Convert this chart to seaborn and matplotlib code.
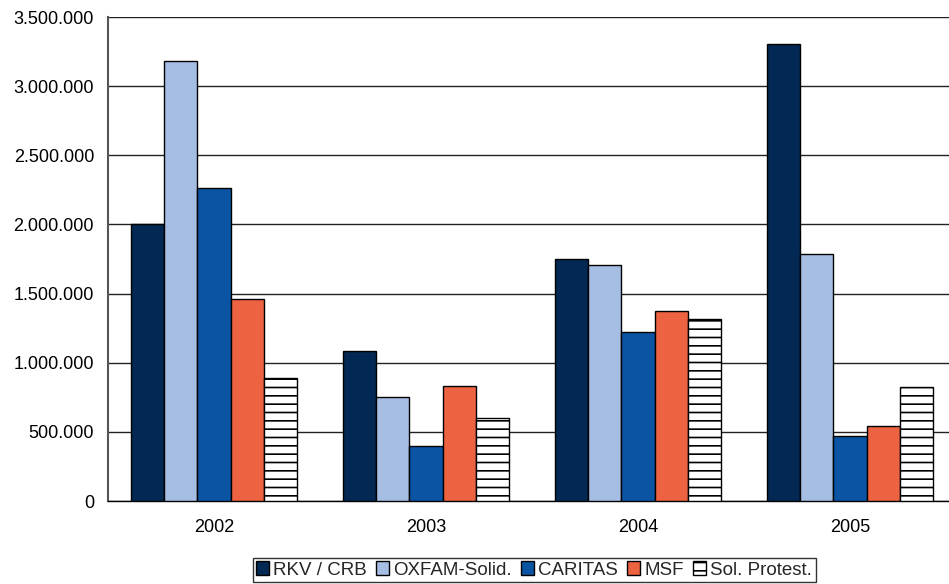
import matplotlib
matplotlib.use("Agg")
import matplotlib.pyplot as plt
from matplotlib.patches import Patch
from matplotlib.ticker import FuncFormatter, FixedLocator
import seaborn as sns
import pandas as pd

years = ["2002", "2003", "2004", "2005"]
organisations = ["RKV / CRB", "OXFAM-Solid.", "CARITAS", "MSF", "Sol. Protest."]
rkv_crb = [2000000, 1085000, 1750000, 3305000]
oxfam_solid = [3182000, 752000, 1707000, 1786000]
caritas = [2263000, 398000, 1222000, 470000]
msf = [1461000, 832000, 1374000, 542000]
sol_protest = [889000, 600000, 1316000, 824000]
yticks = [0, 500000, 1000000, 1500000, 2000000, 2500000, 3000000, 3500000]

colors = ["#022853", "#A6BEE4", "#0B54A4", "#ED6240", "#FFFFFF"]

series = [rkv_crb, oxfam_solid, caritas, msf, sol_protest]
rows = []
for org, vals in zip(organisations, series):
    for yr, v in zip(years, vals):
        rows.append({"year": yr, "org": org, "value": v})
df = pd.DataFrame(rows)

sns.set_style("white")
plt.rcParams["font.family"] = ["Liberation Sans", "DejaVu Sans"]
plt.rcParams["hatch.linewidth"] = 1.2

fig = plt.figure(figsize=(9.49, 5.84), dpi=100)
ax = fig.add_axes([108 / 949, 83 / 584, 848 / 949, 484 / 584])

sns.barplot(data=df, x="year", y="value", hue="org", order=years,
            hue_order=organisations, palette=colors, width=0.78, gap=0,
            saturation=1, edgecolor="black", linewidth=1, legend=False,
            errorbar=None, ax=ax, zorder=3)

for bar in ax.containers[-1]:
    bar.set_hatch("--")
    bar.set_edgecolor("black")

ax.set_xlim(-0.5, 3.5)
ax.set_ylim(0, 3500000)
ax.set_yticks(yticks)
ax.yaxis.set_major_formatter(FuncFormatter(lambda v, p: f"{int(v):,}".replace(",", ".")))
ax.yaxis.grid(True, color="#222222", linewidth=1)
ax.set_axisbelow(True)

ax.xaxis.set_minor_locator(FixedLocator([-0.5, 0.5, 1.5, 2.5, 3.5]))
ax.tick_params(axis="x", which="major", length=0, pad=13, labelsize=13)
ax.tick_params(axis="x", which="minor", length=6, width=1, direction="out")
ax.tick_params(axis="y", length=6, width=1, direction="out", pad=4, labelsize=13)
ax.tick_params(axis="both", colors="#222222", labelcolor="black")
ax.tick_params(axis="x", which="minor", colors="#555555")

for s in ["top", "right"]:
    ax.spines[s].set_visible(False)
ax.spines["left"].set_color("#555555")
ax.spines["left"].set_linewidth(1.5)
ax.spines["bottom"].set_color("black")
ax.spines["bottom"].set_linewidth(1)
ax.set_xlabel("")
ax.set_ylabel("")

handles = []
for org, c in zip(organisations, colors):
    h = Patch(facecolor=c, edgecolor="black", linewidth=1,
              hatch="--" if org == "Sol. Protest." else None, label=org)
    handles.append(h)
leg = fig.legend(handles=handles, loc="center", bbox_to_anchor=(534 / 949, 1 - 570 / 584),
                 ncol=5, frameon=True, fancybox=False, edgecolor="black",
                 handlelength=0.7, handleheight=0.7, handletextpad=0.2,
                 columnspacing=0.5, borderpad=0.2, fontsize=13.5)
leg.get_frame().set_linewidth(1)

fig.savefig("out.png", dpi=100)
